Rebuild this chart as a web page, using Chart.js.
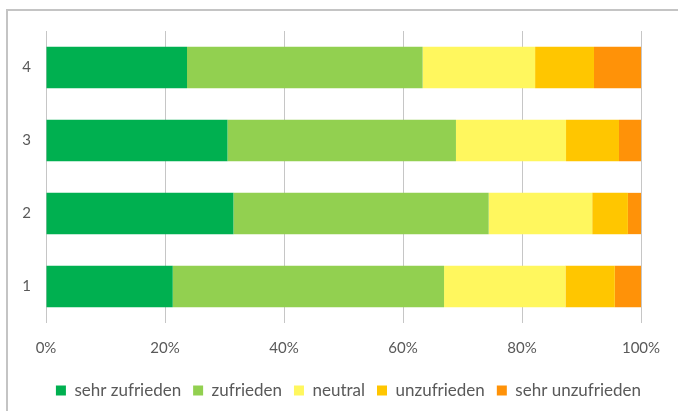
<!DOCTYPE html>
<html>
<head>
<meta charset="utf-8">
<script src="https://cdn.jsdelivr.net/npm/chart.js@4/dist/chart.umd.min.js"></script>
<style>
  html, body { margin: 0; padding: 0; background: #fff; }
  #wrap { position: relative; width: 678px; height: 411px; overflow: hidden; }
  #frame {
    position: absolute; left: 6px; top: 9px; width: 700px; height: 420px;
    border-left: 2px solid #c4c4c4; border-top: 2px solid #c4c4c4;
  }
  #chartSatisfaction { position: absolute; left: 0; top: 0; }
</style>
</head>
<body>
<div id="wrap">
  <div id="frame"></div>
  <canvas id="chartSatisfaction" width="678" height="411"></canvas>
</div>
<script>
// categories (bottom to top)
const categories = ['1', '2', '3', '4'];

// share of answers in percent, one array per rating
const sehrZufrieden   = [21.3, 31.5, 30.5, 23.7];
const zufrieden       = [45.6, 42.9, 38.4, 39.6];
const neutral         = [20.4, 17.4, 18.5, 18.9];
const unzufrieden     = [8.3, 6.0, 8.9, 9.9];
const sehrUnzufrieden = [4.4, 2.2, 3.7, 7.9];

const xTicks = [0, 20, 40, 60, 80, 100];

const FONT = 'Lato, "Open Sans", sans-serif';
const TEXT_COLOR = '#595959';

function initChart() {
  const ctx = document.getElementById('chartSatisfaction').getContext('2d');
  const series = [
    { label: 'sehr zufrieden', data: sehrZufrieden, color: '#00B050' },
    { label: 'zufrieden', data: zufrieden, color: '#92D050' },
    { label: 'neutral', data: neutral, color: '#FFF75E' },
    { label: 'unzufrieden', data: unzufrieden, color: '#FFC600' },
    { label: 'sehr unzufrieden', data: sehrUnzufrieden, color: '#FF9208' }
  ];

  new Chart(ctx, {
    type: 'bar',
    data: {
      labels: categories,
      datasets: series.map(s => ({
        label: s.label,
        data: s.data,
        backgroundColor: s.color,
        borderWidth: 0,
        categoryPercentage: 1,
        barPercentage: 0.566
      }))
    },
    options: {
      responsive: false,
      animation: false,
      indexAxis: 'y',
      layout: { padding: { top: 31, right: 25, left: 0, bottom: 2 } },
      plugins: {
        tooltip: { enabled: false },
        legend: {
          position: 'bottom',
          align: 'end',
          labels: {
            color: TEXT_COLOR,
            font: { family: FONT, size: 17 },
            boxWidth: 10,
            boxHeight: 10,
            padding: 12
          }
        }
      },
      scales: {
        x: {
          stacked: true,
          min: 0,
          max: 100,
          afterBuildTicks: scale => { scale.ticks = xTicks.map(v => ({ value: v })); },
          afterFit: scale => { scale.height = 47; },
          grid: { color: '#c6c6c6', lineWidth: 1, drawTicks: false },
          border: { display: false },
          ticks: {
            color: TEXT_COLOR,
            font: { family: FONT, size: 15 },
            padding: 16,
            callback: v => v + '%'
          }
        },
        y: {
          stacked: true,
          reverse: true,
          afterFit: scale => { scale.width = 46; },
          grid: { display: false, drawTicks: false },
          border: { display: false },
          ticks: {
            color: TEXT_COLOR,
            font: { family: FONT, size: 15 },
            padding: 15
          }
        },
        // empty spacer on the right so the legend can end under the 100% line
        yRight: {
          type: 'category',
          position: 'right',
          afterFit: scale => { scale.width = 12; },
          grid: { display: false, drawTicks: false },
          border: { display: false },
          ticks: { display: false }
        }
      }
    }
  });
}

initChart();
</script>
</body>
</html>
